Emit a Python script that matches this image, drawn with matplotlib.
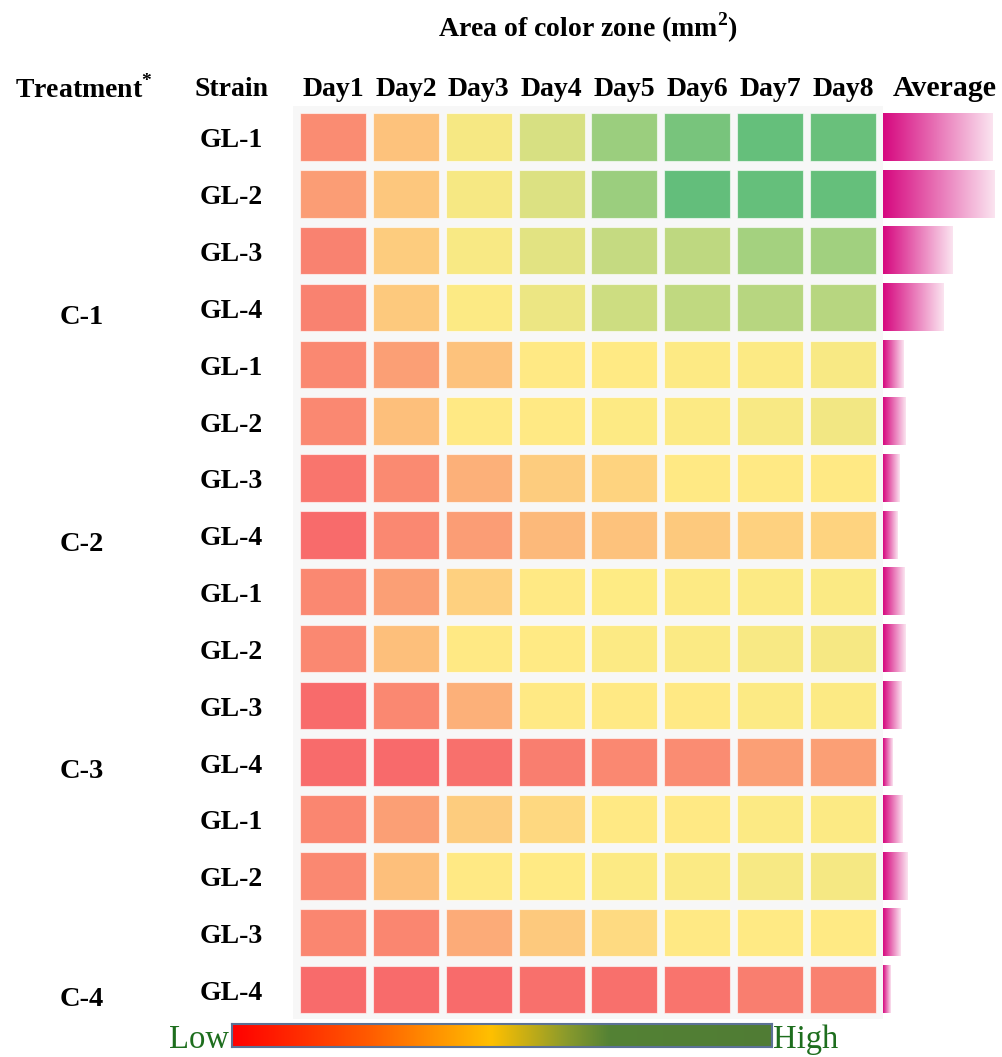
import matplotlib
matplotlib.use('Agg')
import matplotlib.pyplot as plt
import numpy as np
from matplotlib.colors import LinearSegmentedColormap, Normalize
from matplotlib.patches import Rectangle
from matplotlib.transforms import blended_transform_factory

plt.rcParams['font.family'] = 'Liberation Serif'
plt.rcParams['mathtext.fontset'] = 'custom'
plt.rcParams['mathtext.rm'] = 'Liberation Serif'
plt.rcParams['mathtext.bf'] = 'Liberation Serif:bold'

days = ['Day1', 'Day2', 'Day3', 'Day4', 'Day5', 'Day6', 'Day7', 'Day8']
treatments = ['C-1', 'C-2', 'C-3', 'C-4']
strains = ['GL-1', 'GL-2', 'GL-3', 'GL-4']

# colour-scale score of each cell (0 = low/red, 50 = yellow, 100 = high/green)
c1_gl1 = [13.5, 34, 53, 62.5, 82, 93, 99, 98]
c1_gl2 = [20, 36, 53, 61, 82, 100, 99, 99]
c1_gl3 = [10, 38, 52, 59, 68.5, 71, 79, 80]
c1_gl4 = [10, 37, 51, 56, 66, 70, 73, 73]
c2_gl1 = [12, 21, 34, 49.5, 49.8, 50.5, 51, 52]
c2_gl2 = [12, 33, 49.5, 49.5, 50.5, 51, 52, 54]
c2_gl3 = [5, 12.5, 27.7, 38, 41, 49.5, 49.5, 49.5]
c2_gl4 = [1, 12, 20, 30.8, 34, 37, 40, 41]
c3_gl1 = [12, 21, 39.6, 49.5, 50.3, 50.5, 51, 51.5]
c3_gl2 = [12, 33, 49.5, 49.8, 51, 51.5, 52, 53]
c3_gl3 = [1, 12, 27.7, 49.5, 49.5, 49.5, 50.8, 51]
c3_gl4 = [1, 0.5, 3, 8.5, 12, 13.5, 21, 21]
c4_gl1 = [11, 21, 38, 42.7, 49.5, 49.5, 50.8, 51]
c4_gl2 = [12, 33, 49.5, 49.8, 51, 51.5, 52.5, 53.5]
c4_gl3 = [11, 11, 25.4, 37, 43.5, 49.5, 49.8, 49.8]
c4_gl4 = [1, 1, 1, 3, 3, 4.5, 8.5, 9.5]

average = [110, 112, 70, 61, 20.3, 23, 16.7, 14.3, 21.3, 23, 18.3, 9.7, 19.3, 24.3, 17.3, 7.7]

rows = [c1_gl1, c1_gl2, c1_gl3, c1_gl4, c2_gl1, c2_gl2, c2_gl3, c2_gl4,
        c3_gl1, c3_gl2, c3_gl3, c3_gl4, c4_gl1, c4_gl2, c4_gl3, c4_gl4]
data = np.array(rows)
nrow, ncol = data.shape

W, H = 1003, 1057
fig = plt.figure(figsize=(W / 100, H / 100), dpi=100)
fig.patch.set_facecolor('white')

def fx(x):
    return x / W

def fy(y):
    return 1 - y / H

# heatmap
ax = fig.add_axes([fx(293), fy(1019), (883 - 293) / W, (1019 - 106) / H])
ax.set_facecolor('#f7f7f7')
ax.set_xlim(-0.55, ncol - 0.45)
ax.set_ylim(nrow - 0.48, -0.545)
for s in ax.spines.values():
    s.set_visible(False)
ax.set_xticks([])
ax.set_yticks([])

cmap = LinearSegmentedColormap.from_list('excel', ['#F8696B', '#FFEB84', '#63BE7B'])
norm = Normalize(0, 100)
cw, ch = 0.905, 0.835
for i in range(nrow):
    for j in range(ncol):
        ax.add_patch(Rectangle((j - cw / 2, i - ch / 2), cw, ch,
                               facecolor=cmap(norm(data[i, j])),
                               edgecolor=(1, 1, 1, 0.6), linewidth=0.8))

# average bars with gradient
axa = fig.add_axes([fx(883), fy(1019), (1003 - 883) / W, (1019 - 106) / H])
axa.axis('off')
grad_cmap = LinearSegmentedColormap.from_list('avg', ['#d6087f', '#fbe4f0'])
grad = np.linspace(0, 1, 256).reshape(1, -1)
bars = axa.barh(np.arange(nrow), average, height=ch, color='none')
for b in bars:
    x0, y0 = b.get_x(), b.get_y()
    axa.imshow(grad, cmap=grad_cmap, aspect='auto', interpolation='bilinear',
               extent=(x0, x0 + b.get_width(), y0 + b.get_height(), y0), zorder=2)
axa.set_xlim(0, 120)
axa.set_ylim(nrow - 0.48, -0.545)

# titles and headers
bold = dict(fontweight='bold', color='black')
fig.text(fx(588), fy(28), r'Area of color zone (mm$^{\mathbf{2}}$)', ha='center', va='center',
         fontsize=20, **bold)
fig.text(fx(15), fy(89), r'Treatment$^{\mathbf{*}}$', ha='left', va='center', fontsize=20, **bold)
fig.text(fx(232), fy(89), 'Strain', ha='center', va='center', fontsize=20, **bold)
trh = blended_transform_factory(ax.transData, fig.transFigure)
for j, d in enumerate(days):
    ax.text(j, fy(89), d, transform=trh, ha='center', va='center', fontsize=20, **bold)
fig.text(fx(945), fy(89), 'Average', ha='center', va='center', fontsize=21.5, **bold)

trv = blended_transform_factory(fig.transFigure, ax.transData)
for i in range(nrow):
    ax.text(fx(200), i + 0.07, strains[i % 4], transform=trv, ha='left', va='center',
            fontsize=20, **bold)
for k, t in enumerate(treatments):
    ax.text(fx(60), 4 * k + 3 + 0.17, t, transform=trv, ha='left', va='center',
            fontsize=20.5, **bold)

# colour scale legend
axc = fig.add_axes([fx(232), fy(1047), (772 - 232) / W, (1047 - 1024) / H])
scale_cmap = LinearSegmentedColormap.from_list(
    'scale', [(0, '#ff0000'), (0.25, '#ff5a00'), (0.48, '#ffc000'),
              (0.62, '#8a9a2c'), (0.7, '#548235'), (1, '#507c34')])
axc.imshow(grad, cmap=scale_cmap, aspect='auto', extent=(0, 1, 0, 1))
axc.set_xticks([])
axc.set_yticks([])
for s in axc.spines.values():
    s.set_edgecolor('#5b7195')
    s.set_linewidth(1.5)
fig.text(fx(229), fy(1040), 'Low', ha='right', va='center', fontsize=23.5, color='#1e6e1e')
fig.text(fx(773), fy(1040), 'High', ha='left', va='center', fontsize=23.5, color='#1e6e1e')

plt.savefig('out.png', dpi=100)
